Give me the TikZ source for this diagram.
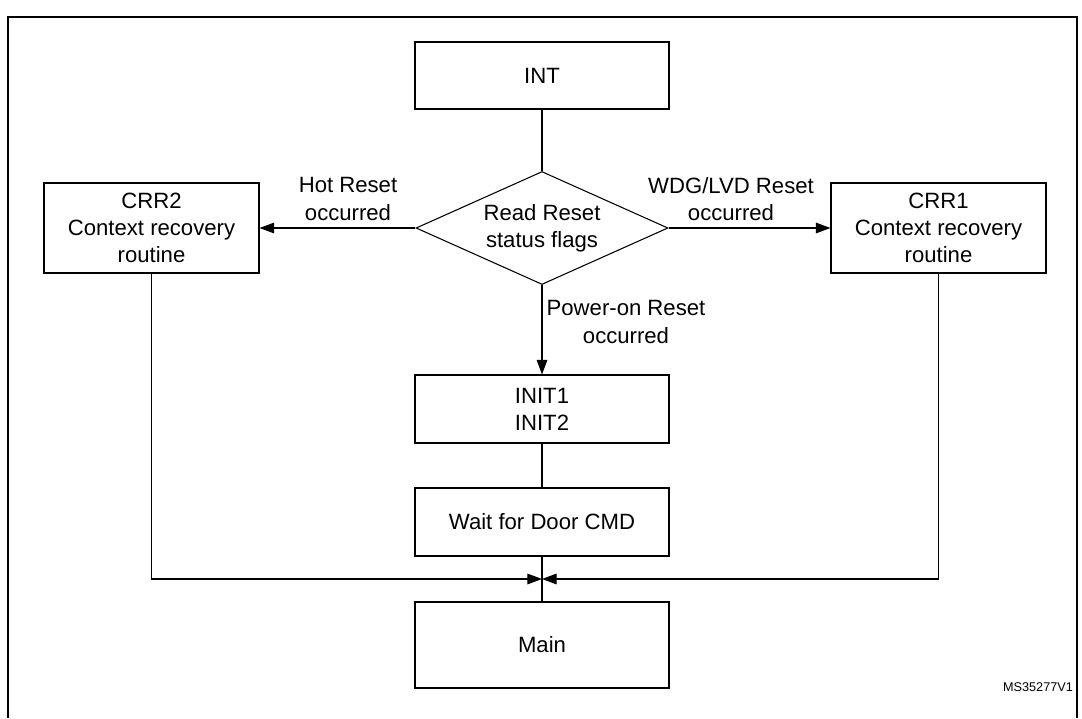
\documentclass[tikz,border=0pt]{standalone}
\usepackage{fontspec}
\setmainfont{Liberation Sans}
\usetikzlibrary{shapes.geometric,arrows.meta}
\begin{document}
\begin{tikzpicture}[x=0.75pt,y=-0.75pt,
  every node/.style={font=\fontsize{16.6}{20.3}\selectfont, align=center},
  box/.style={draw, line width=0.8pt, inner sep=0pt},
  decision/.style={draw, diamond, line width=0.8pt, inner sep=0pt, shape aspect=2.23},
  conn/.style={line width=0.8pt},
  arr/.style={line width=0.8pt, -{Triangle[length=11pt,width=8pt]}},
  lbl/.style={inner sep=0pt}
]
\useasboundingbox (0,0) rectangle (1082,718);
% frame
\draw[line width=2pt] (8,718) -- (8,17) -- (1077,17) -- (1077,718);

\node[box, minimum width=254*0.75pt, minimum height=67*0.75pt] (int) at (542,75.5) {INT};
\node[decision, minimum width=252*0.75pt, minimum height=113*0.75pt] (dec) at (542,228) {Read Reset\\status flags};
\node[box, minimum width=215*0.75pt, minimum height=90*0.75pt] (crr2) at (151.5,228) {CRR2\\Context recovery\\routine};
\node[box, minimum width=215*0.75pt, minimum height=90*0.75pt] (crr1) at (938.5,228) {CRR1\\Context recovery\\routine};
\node[box, minimum width=254*0.75pt, minimum height=68*0.75pt] (init) at (542,409) {INIT1\\INIT2};
\node[box, minimum width=254*0.75pt, minimum height=68*0.75pt] (wait) at (542,522) {Wait for Door CMD};
\node[box, minimum width=254*0.75pt, minimum height=86*0.75pt] (main) at (542,645) {Main};
\coordinate (j) at (542,579);

\node[lbl] (lhot) at (348,199) {Hot Reset\\occurred};
\node[lbl] (lwdg) at (731,199) {WDG/LVD Reset\\occurred};
\node[lbl] (lpor) at (626,322) {Power-on Reset\\occurred};
\node[lbl, font=\fontsize{9.5}{11}\selectfont] (code) at (1038,687) {MS35277V1};

\draw[conn] (int.south) -- (dec.north);
\draw[arr] (dec.west) -- (crr2.east);
\draw[arr] (dec.east) -- (crr1.west);
\draw[arr] (dec.south) -- (init.north);
\draw[conn] (init.south) -- (wait.north);
\draw[conn] (wait.south) -- (main.north);
\draw[arr] (crr2.south) |- (j);
\draw[arr] (crr1.south) |- (j);
\end{tikzpicture}
\end{document}
